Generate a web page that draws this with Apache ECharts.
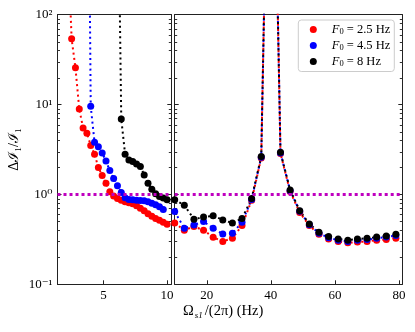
<!DOCTYPE html>
<html>
<head>
<meta charset="utf-8">
<script src="https://cdn.jsdelivr.net/npm/echarts@6/dist/echarts.min.js"></script>
<style>
  html, body { margin: 0; padding: 0; background: #fff; }
  #main { width: 415px; height: 332px; }
</style>
</head>
<body>
<div id="main"></div>
<script>
// left panel (low frequency)
var redLeftX = [1.9, 2.2, 2.5, 2.8, 3.1, 3.4, 3.7, 4.0, 4.3, 4.6, 4.9, 5.2, 5.5, 5.8, 6.1, 6.4, 6.7, 7.0, 7.3, 7.6, 7.9, 8.2, 8.5, 8.8, 9.1, 9.4, 9.7, 10.0];
var redLeftY = [5000, 600, 54, 25.7, 8.9, 5.5, 4.8, 3.5, 2.8, 2.0, 1.62, 1.33, 1.07, 0.96, 0.9, 0.86, 0.83, 0.81, 0.79, 0.75, 0.70, 0.66, 0.61, 0.57, 0.54, 0.515, 0.49, 0.465];
var blueLeftX = [3.7, 4.0, 4.3, 4.6, 4.9, 5.2, 5.5, 5.8, 6.1, 6.4, 6.7, 7.0, 7.3, 7.6, 7.9, 8.2, 8.5, 8.8, 9.1, 9.4, 9.7];
var blueLeftY = [1e6, 9.6, 3.8, 3.4, 2.9, 2.35, 1.85, 1.5, 1.25, 1.05, 0.92, 0.88, 0.87, 0.86, 0.855, 0.85, 0.83, 0.80, 0.77, 0.73, 0.68];
var blackLeftX = [6.1, 6.4, 6.7, 7.0, 7.3, 7.6, 7.9, 8.2, 8.5, 8.8, 9.1, 9.4, 9.7, 10.0];
var blackLeftY = [1e4, 6.9, 2.8, 2.42, 2.32, 2.18, 2.04, 1.65, 1.33, 1.14, 1.02, 0.95, 0.91, 0.87];

// right panel (high frequency)
var rightX = [10, 13, 16, 19, 22, 25, 28, 31, 34, 37, 40, 43, 46, 49, 52, 55, 58, 61, 64, 67, 70, 73, 76, 79];
var redRightY = [0.48, 0.40, 0.44, 0.40, 0.334, 0.30, 0.326, 0.45, 0.86, 2.55, 1e6, 2.85, 1.08, 0.63, 0.45, 0.36, 0.32, 0.30, 0.29, 0.295, 0.30, 0.31, 0.315, 0.325];
var blueRightY = [0.645, 0.42, 0.457, 0.5, 0.42, 0.363, 0.37, 0.49, 0.88, 2.6, 1e6, 2.9, 1.1, 0.65, 0.46, 0.37, 0.33, 0.31, 0.30, 0.31, 0.315, 0.325, 0.335, 0.35];
var blackRightY = [0.87, 0.76, 0.53, 0.56, 0.58, 0.52, 0.48, 0.54, 0.9, 2.65, 1e6, 2.95, 1.12, 0.66, 0.47, 0.38, 0.34, 0.32, 0.31, 0.32, 0.325, 0.335, 0.345, 0.36];

var seriesNames = ['F0=2.5', 'F0=4.5', 'F0=8'];
var legendValues = ['2.5', '4.5', '8'];
var colors = ['#ff0000', '#0000ff', '#000000'];

var leftTicks = [5, 10];
var rightTicks = [20, 40, 60, 80];
var minorTicks = [0.2, 0.3, 0.4, 0.5, 0.6, 0.7, 0.8, 0.9, 2, 3, 4, 5, 6, 7, 8, 9, 20, 30, 40, 50, 60, 70, 80, 90];

var FONT = "'Liberation Serif', 'DejaVu Serif', serif";

function pairs(xs, ys) {
  return xs.map(function (x, i) { return [x, ys[i]]; });
}

function supLabel(v) {
  var e = Math.round(Math.log10(v));
  var map = { '-1': '10\u207B\u00B9', '0': '10\u2070', '1': '10\u00B9', '2': '10\u00B2' };
  return map[e] || '';
}

function logAxis(grid, pos, labels) {
  return {
    type: 'log', logBase: 10, min: 0.1, max: 100, gridIndex: grid, position: pos,
    axisLine: { show: true, lineStyle: { color: '#222', width: 1 } },
    axisTick: { show: true, inside: true, length: 4, lineStyle: { color: '#222' } },
    axisLabel: { show: labels, formatter: supLabel, fontFamily: FONT, fontSize: 13, color: '#000', margin: 5 },
    splitLine: { show: false }
  };
}

function dataSeries(k, xi, yi, data, mark) {
  var s = {
    name: seriesNames[k], type: 'line', xAxisIndex: xi, yAxisIndex: yi,
    data: data, symbol: 'circle', symbolSize: 7, clip: true,
    itemStyle: { color: colors[k] },
    lineStyle: { color: colors[k], width: 2, type: [2, 3.3], cap: 'butt' },
    emphasis: { disabled: true }, animation: false
  };
  if (mark) {
    s.markLine = {
      silent: true, symbol: 'none', label: { show: false }, animation: false,
      lineStyle: { color: '#bf00bf', width: 3, type: [3, 3], cap: 'butt' },
      data: [{ yAxis: 1 }]
    };
  }
  return s;
}

function minorSeries(xi, yi, xmin) {
  return {
    type: 'custom', xAxisIndex: xi, yAxisIndex: yi, silent: true, clip: false,
    data: minorTicks.map(function (v) { return [xmin, v]; }),
    renderItem: function (params, api) {
      var cs = params.coordSys;
      var y = Math.round(api.coord([xmin, api.value(1)])[1]) + 0.5;
      var st = { stroke: '#333', lineWidth: 1 };
      return {
        type: 'group', children: [
          { type: 'line', shape: { x1: cs.x, y1: y, x2: cs.x + 2.5, y2: y }, style: st },
          { type: 'line', shape: { x1: cs.x + cs.width - 2.5, y1: y, x2: cs.x + cs.width, y2: y }, style: st }
        ]
      };
    },
    animation: false
  };
}

var chart = echarts.init(document.getElementById('main'));

var option = {
  animation: false,
  grid: [
    { left: 57.5, top: 14.7, width: 113.8, height: 269.6, show: false },
    { left: 174.7, top: 14.7, width: 227.6, height: 269.6, show: false }
  ],
  legend: {
    data: seriesNames, orient: 'vertical', left: 298.3, top: 20,
    icon: 'circle', itemWidth: 7, itemHeight: 7, itemGap: 2.5,
    padding: [3, 4, 3, 11.5],
    backgroundColor: 'rgba(255,255,255,0.85)', borderColor: '#cccccc', borderWidth: 1, borderRadius: 3,
    formatter: function (name) {
      var v = legendValues[seriesNames.indexOf(name)];
      return '{i|F}{s|0}{n| = ' + v + ' Hz}';
    },
    textStyle: {
      fontFamily: FONT, fontSize: 12, color: '#000',
      rich: {
        i: { fontFamily: FONT, fontStyle: 'italic', fontSize: 12.5, lineHeight: 14, verticalAlign: 'middle', padding: [0, 0, 0, 10] },
        s: { fontFamily: FONT, fontSize: 8.5, lineHeight: 9, verticalAlign: 'bottom' },
        n: { fontFamily: FONT, fontSize: 12.5, lineHeight: 14, verticalAlign: 'middle' }
      }
    }
  },
  xAxis: [
    {
      type: 'value', gridIndex: 0, min: 1.39, max: 10.33, position: 'bottom',
      axisLine: { show: true, onZero: false, lineStyle: { color: '#222' } },
      axisTick: { show: true, inside: true, length: 4, customValues: leftTicks, lineStyle: { color: '#222' } },
      axisLabel: { customValues: leftTicks, fontFamily: FONT, fontSize: 13, color: '#000', margin: 5 },
      splitLine: { show: false }
    },
    {
      type: 'value', gridIndex: 1, min: 10, max: 81, position: 'bottom',
      axisLine: { show: true, onZero: false, lineStyle: { color: '#222' } },
      axisTick: { show: true, inside: true, length: 4, customValues: rightTicks, lineStyle: { color: '#222' } },
      axisLabel: { customValues: rightTicks, fontFamily: FONT, fontSize: 13, color: '#000', margin: 5 },
      splitLine: { show: false }
    },
    {
      type: 'value', gridIndex: 0, min: 1.39, max: 10.33, position: 'top',
      axisLine: { show: true, onZero: false, lineStyle: { color: '#222' } },
      axisTick: { show: false }, axisLabel: { show: false }, splitLine: { show: false }
    },
    {
      type: 'value', gridIndex: 1, min: 10, max: 81, position: 'top',
      axisLine: { show: true, onZero: false, lineStyle: { color: '#222' } },
      axisTick: { show: false }, axisLabel: { show: false }, splitLine: { show: false }
    }
  ],
  yAxis: [
    Object.assign(logAxis(0, 'left', true), {
      name: '\u0394\u2110\u2081/\u2110\u2081', nameLocation: 'middle', nameRotate: 90, nameGap: 36,
      nameTextStyle: { fontFamily: FONT, fontSize: 14, color: '#000' }
    }),
    logAxis(0, 'right', false),
    logAxis(1, 'left', false),
    logAxis(1, 'right', false)
  ],
  graphic: [
    {
      type: 'text', left: 183, top: 304,
      style: {
        text: '{a|\u03A9}{b|s1}{a|/(2\u03C0) (Hz)}',
        rich: {
          a: { fontFamily: FONT, fontSize: 14.5, lineHeight: 17, verticalAlign: 'middle', fill: '#000' },
          b: { fontFamily: FONT, fontSize: 9, fontStyle: 'italic', lineHeight: 9, verticalAlign: 'bottom', padding: [0, 2, 0, 1], fill: '#000' }
        }
      }
    }
  ],
  series: [
    minorSeries(0, 0, 1.39),
    minorSeries(1, 2, 10),
    dataSeries(0, 0, 0, pairs(redLeftX, redLeftY), true),
    dataSeries(1, 0, 0, pairs(blueLeftX, blueLeftY), false),
    dataSeries(2, 0, 0, pairs(blackLeftX, blackLeftY), false),
    dataSeries(0, 1, 2, pairs(rightX, redRightY), true),
    dataSeries(1, 1, 2, pairs(rightX, blueRightY), false),
    dataSeries(2, 1, 2, pairs(rightX, blackRightY), false)
  ]
};

chart.setOption(option);
</script>
</body>
</html>
